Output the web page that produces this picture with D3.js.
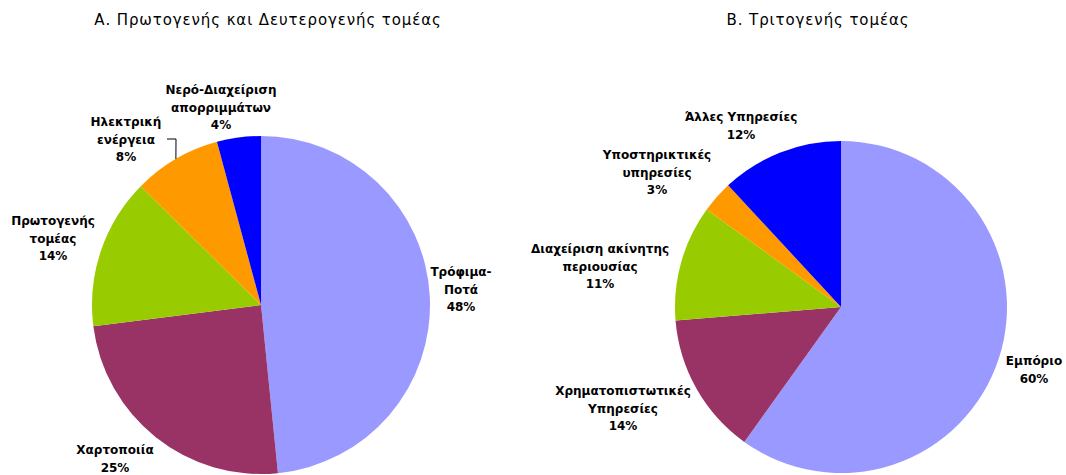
<!DOCTYPE html>
<html><head><meta charset="utf-8">
<script src="https://cdn.jsdelivr.net/npm/d3@7"></script>
<style>body{margin:0;background:#fff}svg{display:block}</style>
</head><body>
<script>
const titleA = "Α. Πρωτογενής και Δευτερογενής τομέας";
const titleB = "Β. Τριτογενής τομέας";
const catsA = [["Τρόφιμα-","Ποτά"],["Χαρτοποιία"],["Πρωτογενής","τομέας"],["Ηλεκτρική","ενέργεια"],["Νερό-Διαχείριση","απορριμμάτων"]];
const valsA = [48.4, 24.6, 14.4, 8.4, 4.2];
const catsB = [["Εμπόριο"],["Χρηματοπιστωτικές","Υπηρεσίες"],["Διαχείριση ακίνητης","περιουσίας"],["Υποστηρικτικές","υπηρεσίες"],["Άλλες Υπηρεσίες"]];
const valsB = [59.9, 13.8, 11.3, 3.1, 11.9];
const colors = ["#9999FF","#993366","#99CC00","#FF9900","#0000FF"];

const W=1066,H=475;
const svg=d3.select("body").append("svg").attr("width",W).attr("height",H);
const color=d3.scaleOrdinal().domain(d3.range(5)).range(colors);

function drawPie(cx,cy,r,vals,cats,labelPos,title,tx){
  svg.append("text").attr("x",tx).attr("y",25).attr("text-anchor","middle")
    .style("font-family","'DejaVu Sans'").style("font-size","15px").style("letter-spacing","0.9px").attr("fill","#000").text(title);
  const pie=d3.pie().sort(null).value(d=>d)(vals);
  const arc=d3.arc().innerRadius(0).outerRadius(r);
  const g=svg.append("g").attr("transform",`translate(${cx},${cy})`);
  g.selectAll("path").data(pie).join("path").attr("d",arc).attr("fill",(d,i)=>color(i));
  pie.forEach((d,i)=>{
    const lp=labelPos[i];
    const lines=cats[i].concat([Math.round(vals[i])+"%"]);
    const t=svg.append("text").attr("text-anchor","middle")
      .style("font-family","'DejaVu Sans'").style("font-weight","bold").style("font-size","12px").attr("fill","#000");
    lines.forEach((s,j)=>t.append("tspan").attr("x",lp[0]).attr("y",lp[1]+j*17.5).text(s));
  });
  return {pie,arc,g};
}
const A=drawPie(261,305,169,valsA,catsA,[[461,276],[115,454],[53,225],[126,126],[221,94]],titleA,268);
// leader line for Ηλεκτρική ενέργεια
const dA=A.pie[3], ang=(dA.startAngle+dA.endAngle)/2;
const ex=261+169*Math.sin(ang), ey=305-169*Math.cos(ang);
svg.append("path").attr("d",`M167,139 L176,139 L${ex},${ey}`).attr("fill","none").attr("stroke","#000").attr("stroke-width",1);
drawPie(841,307,166,valsB,catsB,[[1034,365],[623,395],[600,253],[657,159],[741,121]],titleB,818);
</script>
</body></html>
